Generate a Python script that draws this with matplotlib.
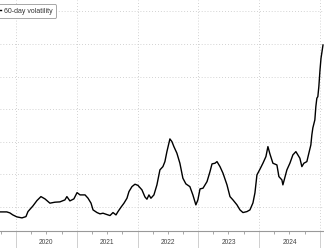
import matplotlib
matplotlib.use("Agg")
import matplotlib.pyplot as plt
import matplotlib.dates as mdates
import matplotlib.transforms as mtransforms
import pandas as pd

dates = ["2019-09-26", "2019-11-07", "2019-11-25", "2019-12-13", "2020-01-06", "2020-02-06",
         "2020-03-01", "2020-03-13", "2020-04-12", "2020-05-06", "2020-05-30", "2020-06-23",
         "2020-07-23", "2020-08-22", "2020-09-21", "2020-10-21", "2020-11-02", "2020-11-20",
         "2020-12-14", "2021-01-02", "2021-01-20", "2021-02-19", "2021-03-09", "2021-03-27",
         "2021-04-08", "2021-05-02", "2021-05-20", "2021-06-07", "2021-07-01", "2021-07-19",
         "2021-08-06", "2021-08-24", "2021-09-05", "2021-09-23", "2021-10-11", "2021-10-29",
         "2021-11-10", "2021-11-28", "2021-12-16", "2022-01-03", "2022-01-27", "2022-02-14",
         "2022-02-26", "2022-03-10", "2022-03-22", "2022-04-09", "2022-04-27", "2022-05-15",
         "2022-06-02", "2022-06-14", "2022-06-26", "2022-07-14", "2022-07-26", "2022-08-07",
         "2022-08-25", "2022-09-12", "2022-09-30", "2022-10-18", "2022-11-11", "2022-11-29",
         "2022-12-17", "2022-12-29", "2023-01-11", "2023-01-29", "2023-02-22", "2023-03-12",
         "2023-03-24", "2023-04-11", "2023-04-23", "2023-05-11", "2023-05-29", "2023-06-22",
         "2023-07-10", "2023-07-28", "2023-08-21", "2023-09-08", "2023-09-26", "2023-10-20",
         "2023-11-07", "2023-11-25", "2023-12-07", "2023-12-19", "2024-01-06", "2024-01-24",
         "2024-02-11", "2024-02-23", "2024-03-06", "2024-03-24", "2024-04-17", "2024-04-29",
         "2024-05-17", "2024-05-23", "2024-06-16", "2024-07-04", "2024-07-22", "2024-08-09",
         "2024-09-02", "2024-09-14", "2024-09-26", "2024-10-14", "2024-10-26", "2024-11-07",
         "2024-11-13", "2024-11-19", "2024-12-01", "2024-12-07", "2024-12-13", "2024-12-19",
         "2024-12-25", "2025-01-01", "2025-01-07", "2025-01-13", "2025-01-19"]

volatility = [9.23, 9.23, 9.08, 8.77, 8.47, 8.31,
              8.51, 9.28, 10.15, 10.97, 11.58, 11.23,
              10.57, 10.72, 10.77, 11.07, 11.58, 10.92,
              11.23, 12.19, 11.84, 11.84, 11.33, 10.57,
              9.54, 9.13, 8.93, 9.03, 8.82, 8.67,
              9.13, 8.77, 9.28, 9.95, 10.57, 11.33,
              12.35, 13.11, 13.48, 13.30, 12.61, 11.53,
              11.18, 11.84, 11.33, 11.84, 13.38, 15.68,
              16.18, 16.95, 18.48, 20.43, 20.02, 19.25,
              18.24, 16.70, 14.40, 13.53, 13.11, 11.84,
              10.31, 11.07, 12.76, 12.87, 13.88, 15.42,
              16.60, 16.70, 16.95, 16.18, 15.17, 13.38,
              11.58, 11.07, 10.31, 9.54, 9.13, 9.28,
              9.54, 10.61, 12.15, 14.91, 15.78, 16.70,
              17.72, 19.25, 18.13, 16.70, 16.44, 14.65,
              14.14, 13.38, 15.68, 16.70, 17.98, 18.48,
              17.47, 16.18, 16.70, 16.95, 18.24, 19.51,
              21.05, 22.12, 23.35, 25.39, 26.68, 26.92,
              28.46, 31.02, 32.81, 33.82, 34.85]

year_labels = ["2020", "2021", "2022", "2023", "2024"]
series_label = "60-day volatility"

x = pd.to_datetime(dates)

fig = plt.figure(figsize=(3.24, 2.48), dpi=100)
ax = fig.add_axes([0, 17 / 248, 1, 231 / 248])

ax.plot(x, volatility, color="black", linewidth=1.0, label=series_label)

ax.set_xlim(pd.Timestamp("2019-09-27"), pd.Timestamp("2025-01-25"))
ax.set_ylim(6.3, 41.75)
ax.set_yticks([10, 15, 20, 25, 30, 35, 40])
ax.tick_params(axis="y", left=False, labelleft=False)

ax.xaxis.set_major_locator(mdates.YearLocator())
ax.xaxis.set_minor_locator(mdates.MonthLocator(bymonth=[4, 7, 10]))
ax.xaxis.set_major_formatter(plt.NullFormatter())
ax.tick_params(axis="x", which="major", length=12, width=0.6, color="#c8c8c8", direction="out")
ax.tick_params(axis="x", which="minor", length=2, width=0.6, color="#999999", direction="out")

ax.grid(True, which="major", color="#c4c4c4", linewidth=0.6, linestyle=(0, (1, 2.5)))

for s in ["top", "right", "left"]:
    ax.spines[s].set_visible(False)
ax.spines["bottom"].set_color("#999999")
ax.spines["bottom"].set_linewidth(0.8)

trans = mtransforms.blended_transform_factory(ax.transData, ax.transAxes)
for lab in year_labels:
    ax.text(pd.Timestamp(f"{lab}-07-02"), -0.048, lab, transform=trans,
            ha="center", va="center", fontsize=4.8, color="#444444",
            family="Liberation Sans")

leg = ax.legend(loc="upper left", bbox_to_anchor=(-0.05, 0.996),
                handlelength=1.5, handletextpad=0.5, borderpad=0.45,
                fancybox=True, framealpha=1, edgecolor="#999999",
                prop={"family": "Liberation Sans", "size": 5.0})
leg.get_frame().set_linewidth(0.6)
for t in leg.get_texts():
    t.set_color("#333333")

fig.savefig("out.png", dpi=100)
